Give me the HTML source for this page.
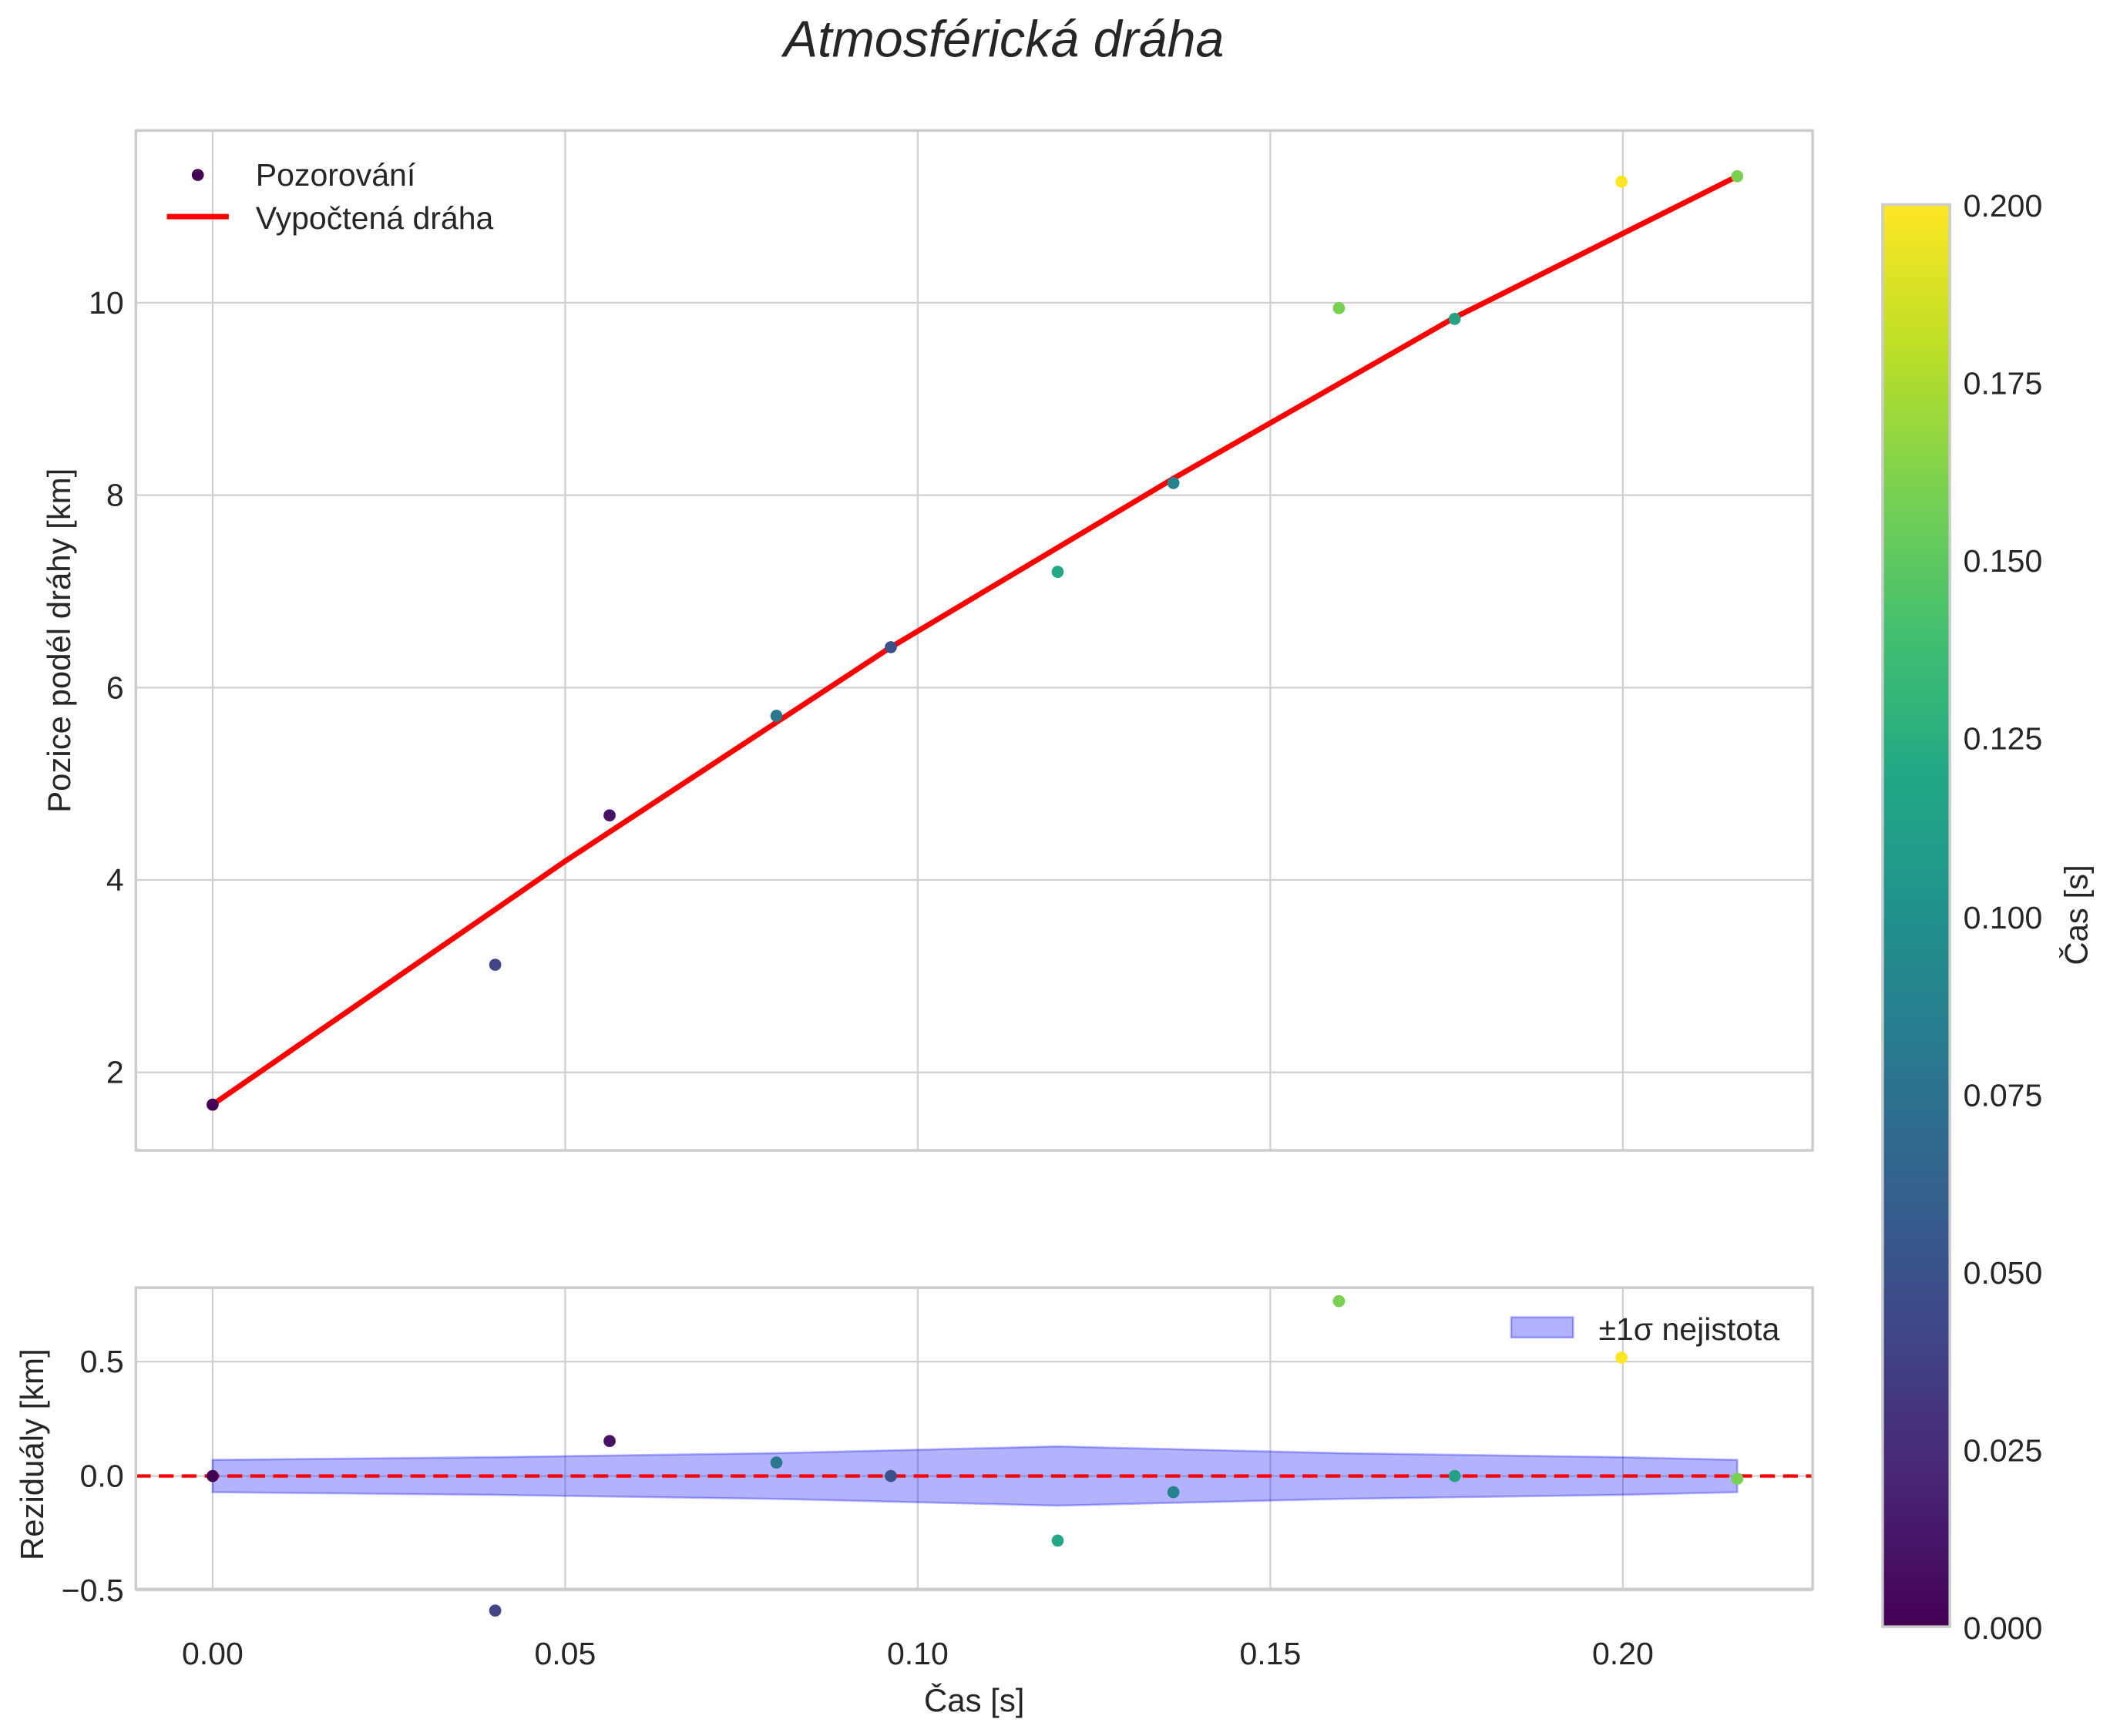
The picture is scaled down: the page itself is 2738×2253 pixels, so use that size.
<!DOCTYPE html>
<html><head><meta charset="utf-8"><style>html,body{margin:0;padding:0;background:#fff}svg{display:block}</style></head>
<body>
<svg width="2738" height="2253" viewBox="0 0 1568 1290.2" xmlns="http://www.w3.org/2000/svg" font-family="Liberation Sans, sans-serif" fill="#262626">
<defs>
<linearGradient id="vir" x1="0" y1="1" x2="0" y2="0">
<stop offset="0" stop-color="#440154"/><stop offset="0.1" stop-color="#482475"/><stop offset="0.2" stop-color="#414487"/><stop offset="0.3" stop-color="#355f8d"/><stop offset="0.4" stop-color="#2a788e"/><stop offset="0.5" stop-color="#21918c"/><stop offset="0.6" stop-color="#22a884"/><stop offset="0.7" stop-color="#44bf70"/><stop offset="0.8" stop-color="#7ad151"/><stop offset="0.9" stop-color="#bddf26"/><stop offset="1" stop-color="#fde725"/>
</linearGradient>
</defs>
<text x="746" y="42" font-size="38" font-style="italic" text-anchor="middle">Atmosférická dráha</text>
<g stroke="#d0d0d0" stroke-width="1.3">
<line x1="158" y1="97" x2="158" y2="855"/><line x1="420" y1="97" x2="420" y2="855"/><line x1="682" y1="97" x2="682" y2="855"/><line x1="944" y1="97" x2="944" y2="855"/><line x1="1206" y1="97" x2="1206" y2="855"/>
<line x1="101" y1="225" x2="1347" y2="225"/><line x1="101" y1="368" x2="1347" y2="368"/><line x1="101" y1="511" x2="1347" y2="511"/><line x1="101" y1="654" x2="1347" y2="654"/><line x1="101" y1="797" x2="1347" y2="797"/>
</g>
<rect x="101" y="97" width="1246" height="758" fill="none" stroke="#cccccc" stroke-width="2"/>
<g font-size="23.5" text-anchor="end">
<text x="92" y="233">10</text><text x="92" y="376">8</text><text x="92" y="519">6</text><text x="92" y="662">4</text><text x="92" y="805">2</text>
</g>
<text transform="translate(52,476) rotate(-90)" font-size="24" text-anchor="middle">Pozice podél dráhy [km]</text>
<polyline points="158,821 420,640 662,481 873,355 1081,236 1291,131" fill="none" stroke="#ff0000" stroke-width="4"/>
<g>
<circle cx="158" cy="821" r="4.5" fill="#440154"/><circle cx="368" cy="717" r="4.5" fill="#414487"/><circle cx="453" cy="606" r="4.5" fill="#471164"/><circle cx="577" cy="532" r="4.5" fill="#2a788e"/><circle cx="662" cy="481" r="4.5" fill="#3b528b"/><circle cx="786" cy="425" r="4.5" fill="#22a884"/><circle cx="872" cy="359" r="4.5" fill="#26828e"/><circle cx="995" cy="229" r="4.5" fill="#7ad151"/><circle cx="1081" cy="237" r="4.5" fill="#25a085"/><circle cx="1205" cy="135" r="4.5" fill="#fde725"/><circle cx="1291" cy="131" r="4.5" fill="#7ad151"/>
</g>
<circle cx="147" cy="130" r="4.5" fill="#440154"/>
<text x="190" y="138" font-size="23.5">Pozorování</text>
<line x1="124" y1="161" x2="170" y2="161" stroke="#ff0000" stroke-width="4"/>
<text x="190" y="170" font-size="23.5">Vypočtená dráha</text>
<g stroke="#d0d0d0" stroke-width="1.3">
<line x1="158" y1="957" x2="158" y2="1181"/><line x1="420" y1="957" x2="420" y2="1181"/><line x1="682" y1="957" x2="682" y2="1181"/><line x1="944" y1="957" x2="944" y2="1181"/><line x1="1206" y1="957" x2="1206" y2="1181"/>
<line x1="101" y1="1012" x2="1347" y2="1012"/><line x1="101" y1="1097" x2="1347" y2="1097"/><line x1="101" y1="1182" x2="1347" y2="1182"/>
</g>
<polygon points="158,1085 368,1083 577,1080 786,1075 995,1080 1205,1083 1291,1085 1291,1109 1205,1111 995,1114 786,1119 577,1114 368,1111 158,1109" fill="#0000ff" fill-opacity="0.3" stroke="#0000ff" stroke-opacity="0.3" stroke-width="1.5"/>
<line x1="101" y1="1097" x2="1347" y2="1097" stroke="#ff0000" stroke-width="2.5" stroke-dasharray="11,6"/>
<rect x="101" y="957" width="1246" height="224" fill="none" stroke="#cccccc" stroke-width="2"/>
<g>
<circle cx="158" cy="1097" r="4.5" fill="#440154"/><circle cx="368" cy="1197" r="4.5" fill="#414487"/><circle cx="453" cy="1071" r="4.5" fill="#471164"/><circle cx="577" cy="1087" r="4.5" fill="#2a788e"/><circle cx="662" cy="1097" r="4.5" fill="#3b528b"/><circle cx="786" cy="1145" r="4.5" fill="#22a884"/><circle cx="872" cy="1109" r="4.5" fill="#26828e"/><circle cx="995" cy="967" r="4.5" fill="#7ad151"/><circle cx="1081" cy="1097" r="4.5" fill="#25a085"/><circle cx="1205" cy="1009" r="4.5" fill="#fde725"/><circle cx="1291" cy="1099" r="4.5" fill="#7ad151"/>
</g>
<rect x="1123" y="979" width="46" height="15" fill="#0000ff" fill-opacity="0.3" stroke="#0000ff" stroke-opacity="0.3" stroke-width="1.5"/>
<text x="1188" y="996" font-size="23.5">±1σ nejistota</text>
<g font-size="23.5" text-anchor="end">
<text x="92" y="1020">0.5</text><text x="92" y="1105">0.0</text><text x="92" y="1190">−0.5</text>
</g>
<text transform="translate(32,1081) rotate(-90)" font-size="24" text-anchor="middle">Reziduály [km]</text>
<g font-size="23.5" text-anchor="middle">
<text x="158" y="1237">0.00</text><text x="420" y="1237">0.05</text><text x="682" y="1237">0.10</text><text x="944" y="1237">0.15</text><text x="1206" y="1237">0.20</text>
</g>
<text x="724" y="1272" font-size="24" text-anchor="middle">Čas [s]</text>
<rect x="1399" y="152" width="50" height="1057" fill="url(#vir)" stroke="#cccccc" stroke-width="2"/>
<g font-size="23.5">
<text x="1459" y="1218">0.000</text><text x="1459" y="1086">0.025</text><text x="1459" y="954">0.050</text><text x="1459" y="822">0.075</text><text x="1459" y="690">0.100</text><text x="1459" y="557">0.125</text><text x="1459" y="425">0.150</text><text x="1459" y="293">0.175</text><text x="1459" y="161">0.200</text>
</g>
<text transform="translate(1551,680) rotate(-90)" font-size="24" text-anchor="middle">Čas [s]</text>
</svg>
</body></html>
